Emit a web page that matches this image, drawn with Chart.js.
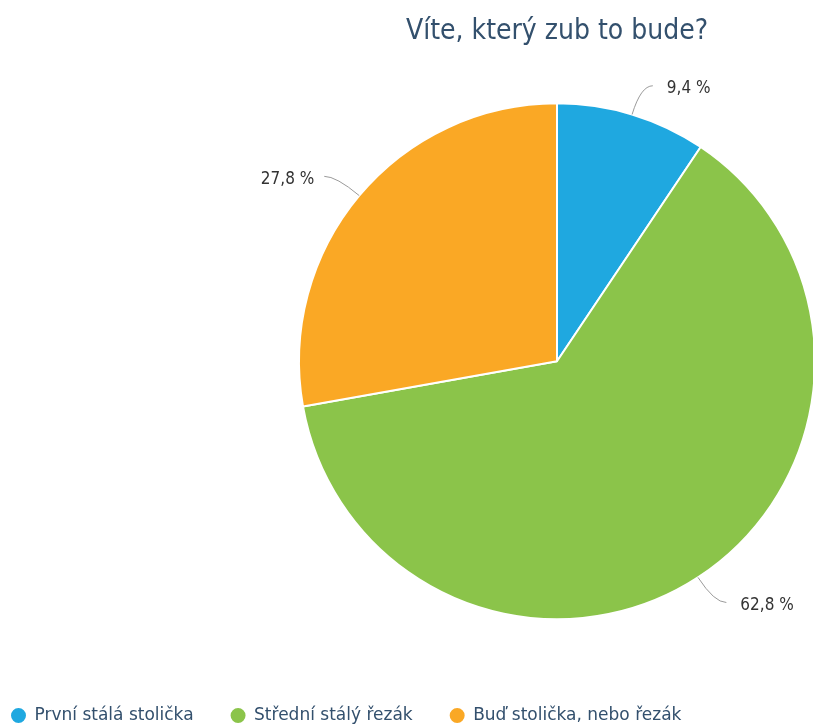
<!DOCTYPE html>
<html>
<head>
<meta charset="utf-8">
<script src="https://cdn.jsdelivr.net/npm/chart.js@4/dist/chart.umd.min.js"></script>
<style>
  html, body { margin: 0; padding: 0; width: 813px; height: 727px; overflow: hidden; background: #fff; }
  #wrap { position: absolute; left: -26px; top: 0; width: 1166px; height: 734px; }
</style>
</head>
<body>
<div id="wrap"><canvas id="c"></canvas></div>
<script>
const titleText = 'Víte, který zub to bude?';
const categories = ['První stálá stolička', 'Střední stálý řezák', 'Buď stolička, nebo řezák'];
const values = [9.4, 62.8, 27.8];
const valueLabels = ['9,4 %', '62,8 %', '27,8 %'];
const colors = ['#1fa8e0', '#8bc44a', '#faa825'];

const leaderPlugin = {
  id: 'leaders',
  afterDatasetsDraw(chart) {
    const ctx = chart.ctx;
    const meta = chart.getDatasetMeta(0);
    ctx.save();
    meta.data.forEach((arc, i) => {
      const p = arc.getProps(['x', 'y', 'startAngle', 'endAngle', 'outerRadius'], true);
      const mid = (p.startAngle + p.endAngle) / 2;
      const cx = Math.cos(mid), cy = Math.sin(mid);
      const x0 = p.x + cx * p.outerRadius, y0 = p.y + cy * p.outerRadius;
      const x1 = p.x + cx * (p.outerRadius + 30), y1 = p.y + cy * (p.outerRadius + 30);
      const right = cx >= 0;
      const x2 = x1 + (right ? 12 : -12), y2 = y1;
      ctx.beginPath();
      ctx.strokeStyle = '#9a9a9a';
      ctx.lineWidth = 1;
      ctx.moveTo(x0, y0);
      ctx.quadraticCurveTo(x1, y1, x2, y2);
      ctx.stroke();
      ctx.fillStyle = '#333333';
      ctx.font = '17px "DejaVu Sans Condensed", "DejaVu Sans", sans-serif';
      ctx.textBaseline = 'middle';
      ctx.textAlign = right ? 'left' : 'right';
      ctx.fillText(valueLabels[i], x2 + (right ? 14 : -10), y2 + 3);
    });
    ctx.restore();
  }
};

new Chart(document.getElementById('c'), {
  type: 'pie',
  data: {
    labels: categories,
    datasets: [{
      data: values,
      backgroundColor: colors,
      borderColor: '#ffffff',
      borderWidth: 2
    }]
  },
  options: {
    responsive: true,
    maintainAspectRatio: false,
    animation: false,
    radius: 258,
    layout: { padding: 0 },
    plugins: {
      title: {
        display: true,
        text: titleText,
        color: '#33506d',
        font: { family: '"DejaVu Sans Condensed", "DejaVu Sans", sans-serif', size: 28, weight: 'normal' },
        padding: { top: 15, bottom: 4 }
      },
      legend: {
        position: 'bottom',
        align: 'start',
        labels: {
          usePointStyle: true,
          pointStyle: 'circle',
          boxWidth: 15,
          boxHeight: 12,
          padding: 37,
          color: '#33506d',
          font: { family: '"DejaVu Sans", sans-serif', size: 17 }
        }
      },
      tooltip: { enabled: false }
    }
  },
  plugins: [leaderPlugin]
});
</script>
</body>
</html>
